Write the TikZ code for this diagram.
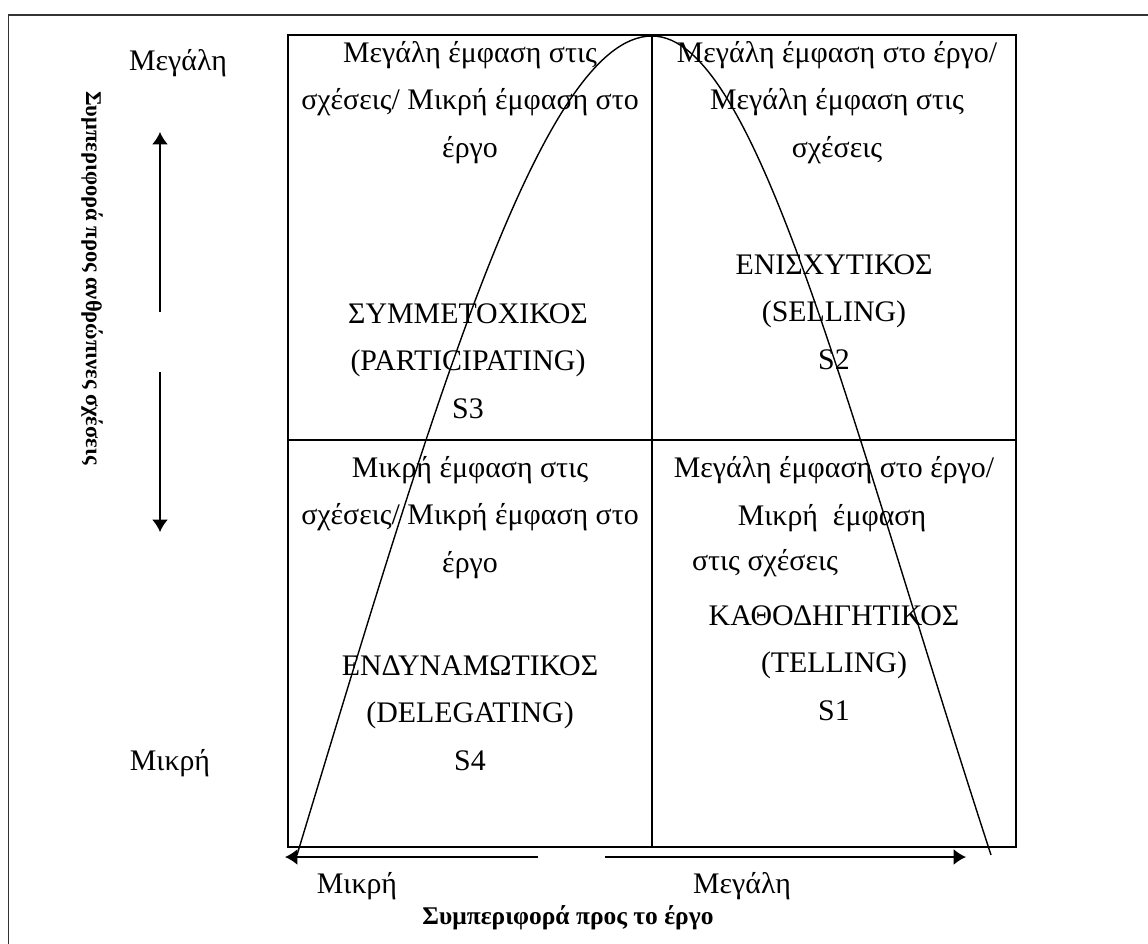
\documentclass[tikz,border=0pt]{standalone}
\usepackage{fontspec}
\setmainfont{Liberation Serif}
\usetikzlibrary{positioning,arrows.meta}
\tikzset{
	every node/.style = {font=\fontsize{17}{27}\selectfont, inner sep = 0, anchor=base},
	>={Latex[length=7pt,width=9pt]},
	every text node part/.style={align=center},
	grid/.style={line width=1.1pt},
	axis/.style={line width=1pt, ->},
	curve/.style={line width=0.8pt},
	caption/.style={font=\fontsize{14.5}{18}\selectfont\bfseries}
}

\begin{document}
\begin{tikzpicture}[x=0.02cm, y=-0.02cm]
		\clip (0,0) rectangle (1148,943);
		\draw[line width=0.9pt, black!80] (8.5,15) rectangle (1200,1000);
		
		% the four quadrants
		\draw[grid] (288,35) rectangle (1016,847);
		\draw[grid] (652,35) -- (652,847);
		\draw[grid] (288,440) -- (1016,440);
		
		\node(tlhead) at (470,157) {Μεγάλη έμφαση στις\\σχέσεις/ Μικρή έμφαση στο\\έργο};
		\node(tlstyle) at (468,418) {ΣΥΜΜΕΤΟΧΙΚΟΣ\\(PARTICIPATING)\\S3};
		\node(trhead) at (837,157) {Μεγάλη έμφαση στο έργο/\\Μεγάλη έμφαση στις\\σχέσεις};
		\node(trstyle) at (834,369) {ΕΝΙΣΧΥΤΙΚΟΣ\\(SELLING)\\S2};
		\node(blhead) at (470,572) {Μικρή έμφαση στις\\σχέσεις/ Μικρή έμφαση στο\\έργο};
		\node(blstyle) at (470,770) {ΕΝΔΥΝΑΜΩΤΙΚΟΣ\\(DELEGATING)\\S4};
		\node(brhead) at (834,477) {Μεγάλη έμφαση στο έργο/};
		\node(brhead2) at (832,525) {Μικρή~ έμφαση};
		\node(brhead3) at (765,570) {στις σχέσεις};
		\node(brstyle) at (834,720) {ΚΑΘΟΔΗΓΗΤΙΚΟΣ\\(TELLING)\\S1};
		
		% situational curve
		\draw[curve] (297,855) .. controls (431,413) and (541,36) .. (652,36)
			.. controls (757,36) and (847,413) .. (991,855);
		
		% relationship axis
		\node(relhigh) at (178,70) {Μεγάλη};
		\node(rellow) at (170,770) {Μικρή};
		\node(reltitle)[caption, font=\fontsize{12.8}{16}\selectfont\bfseries, anchor=center, rotate=-90] at (92,278) {Συμπεριφορά προς ανθρώπινες σχέσεις};
		\coordinate(upfrom) at (160,312);
		\coordinate(upto) at (160,132);
		\coordinate(downfrom) at (160,372);
		\coordinate(downto) at (160,532);
		\draw[axis] (upfrom) -- (upto);
		\draw[axis] (downfrom) -- (downto);
		
		% task axis
		\coordinate(leftfrom) at (538,857);
		\coordinate(leftto) at (285,857);
		\coordinate(rightfrom) at (605,857);
		\coordinate(rightto) at (966,857);
		\draw[axis] (leftfrom) -- (leftto);
		\draw[axis] (rightfrom) -- (rightto);
		\node(tasklow) at (357,893) {Μικρή};
		\node(taskhigh) at (742,893) {Μεγάλη};
		\node(tasktitle)[caption] at (568,924) {Συμπεριφορά προς το έργο};
\end{tikzpicture}
\end{document}
